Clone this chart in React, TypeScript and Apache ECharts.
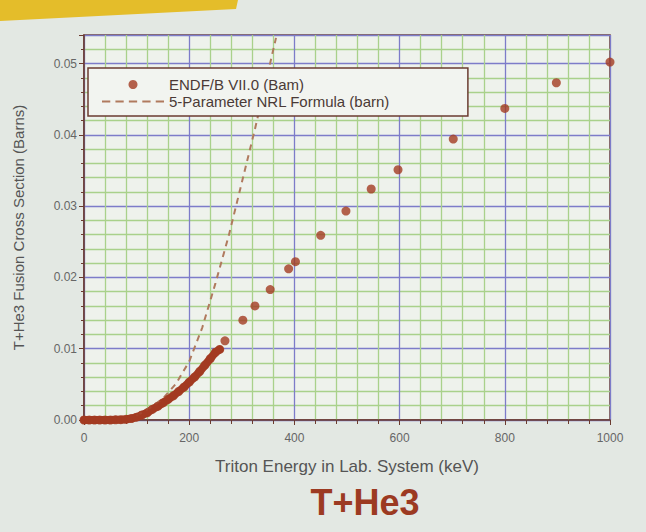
import React, { useEffect, useRef } from "react";
import * as echarts from "echarts";

// ENDF/B VII.0 points (keV, barn) – dense low-energy part
const endfDenseE = [0, 10, 20, 30, 40, 50, 60, 70, 80, 90, 100, 110, 120, 130, 140, 150, 160, 170, 180, 190, 200, 210, 220, 230, 240, 250, 258];
const endfDenseSigma = [0, 0, 0, 0, 0, 0, 0.00002, 0.00005, 0.0001, 0.0002, 0.0004, 0.0007, 0.001, 0.0015, 0.0019, 0.0024, 0.0029, 0.0034, 0.004, 0.0046, 0.0053, 0.006, 0.0068, 0.0077, 0.0086, 0.0095, 0.0099];
// ENDF/B VII.0 points – sparse higher-energy part
const endfE = [268, 302, 325, 354, 389, 402, 450, 498, 546, 597, 702, 800, 898, 1000];
const endfSigma = [0.0111, 0.014, 0.016, 0.0183, 0.0212, 0.0222, 0.0259, 0.0293, 0.0324, 0.0351, 0.0394, 0.0437, 0.0473, 0.0502];
// 5-Parameter NRL formula curve
const nrlE = [100, 125, 150, 175, 200, 225, 250, 275, 300, 325, 350, 365];
const nrlSigma = [0.0006, 0.0017, 0.003, 0.0051, 0.0082, 0.013, 0.0192, 0.0258, 0.0333, 0.0408, 0.0488, 0.0536];

const seriesNames = ["ENDF/B VII.0 (Bam)", "5-Parameter NRL Formula (barn)"];
const xAxisName = "Triton Energy in Lab. System (keV)";
const yAxisName = "T+He3 Fusion Cross Section (Barns)";
const title = "T+He3";

const W = 646;
const H = 532;

export default function App() {
  const ref = useRef<HTMLDivElement>(null);
  useEffect(() => {
    document.body.style.margin = "0";
    if (!ref.current) return;
    const chart = echarts.init(ref.current, null, { renderer: "svg" });
    const red = "#a33b22";
    const dash = "#b07a5e";
    const axisCol = "#6b3b30";
    const font = "Liberation Sans, Arial, sans-serif";
    const endfAll = endfDenseE.map((e, i) => [e, endfDenseSigma[i]]).concat(endfE.map((e, i) => [e, endfSigma[i]]));
    const dashIcon = "path://M0,4h8v2h-8z M13,4h8v2h-8z M26,4h8v2h-8z M39,4h8v2h-8z M52,4h8v2h-8z";
    chart.setOption({
      animation: false,
      backgroundColor: "#e3e8e3",
      textStyle: { fontFamily: font },
      title: {
        text: title,
        left: 365,
        textAlign: "center",
        top: 484,
        padding: 0,
        textStyle: { fontSize: 36, fontWeight: "bold", color: "#9c3a22", fontFamily: font },
      },
      grid: {
        left: 84,
        right: 36,
        top: 35,
        bottom: 112,
        show: true,
        backgroundColor: "#eef2ec",
        borderColor: axisCol,
        borderWidth: 1.5,
      },
      legend: {
        z: 6,
        left: 88,
        top: 68,
        orient: "vertical",
        itemGap: 0,
        itemWidth: 62,
        itemHeight: 9,
        padding: [8, 78, 6, 14],
        backgroundColor: "#f2f4f0",
        borderColor: axisCol,
        borderWidth: 1.5,
        borderRadius: 0,
        textStyle: { fontSize: 15, lineHeight: 17, color: "#4a3a36", fontFamily: font },
        data: [
          { name: seriesNames[0], icon: "circle", itemStyle: { color: red } },
          { name: seriesNames[1], icon: dashIcon, itemStyle: { color: dash } },
        ],
      },
      graphic: [
        {
          type: "polygon",
          shape: { points: [[0, 0], [238, 0], [236, 9], [0, 21]] },
          style: { fill: "#e4bd2a" },
        },
      ],
      xAxis: {
        type: "value",
        min: 0,
        max: 1000,
        interval: 200,
        name: xAxisName,
        nameLocation: "middle",
        nameGap: 38,
        nameTextStyle: { fontSize: 17, color: "#555555", fontFamily: font },
        axisLine: { show: true, lineStyle: { color: axisCol, width: 1.5 } },
        axisTick: { show: true, length: 5, lineStyle: { color: axisCol } },
        minorTick: { show: true, splitNumber: 5, length: 4, lineStyle: { color: axisCol } },
        axisLabel: { fontSize: 12, color: "#666666", margin: 12, fontFamily: font, formatter: (v: number) => String(v) },
        splitLine: { show: true, lineStyle: { color: "#7d7cc9", width: 1.3 } },
        minorSplitLine: { show: true, lineStyle: { color: "#a9d18b", width: 1.3 } },
      },
      yAxis: {
        type: "value",
        min: 0,
        max: 0.054,
        interval: 0.01,
        name: yAxisName,
        nameLocation: "middle",
        nameGap: 58,
        nameTextStyle: { fontSize: 15, color: "#555555", fontFamily: font },
        axisLine: { show: true, lineStyle: { color: axisCol, width: 1.5 } },
        axisTick: { show: true, length: 5, lineStyle: { color: axisCol } },
        minorTick: { show: true, splitNumber: 5, length: 3, lineStyle: { color: axisCol } },
        axisLabel: {
          fontSize: 12,
          color: "#666666",
          margin: 7,
          showMaxLabel: false,
          fontFamily: font,
          formatter: (v: number) => v.toFixed(2),
        },
        splitLine: { show: true, lineStyle: { color: "#7d7cc9", width: 1.3 } },
        minorSplitLine: { show: true, lineStyle: { color: "#a9d18b", width: 1.3 } },
      },
      series: [
        {
          name: "ENDF dense band",
          type: "line",
          data: endfDenseE.map((e, i) => [e, endfDenseSigma[i]]),
          symbol: "none",
          lineStyle: { color: red, width: 8, cap: "round", join: "round" },
          z: 2,
        },
        {
          name: seriesNames[0],
          type: "scatter",
          data: endfAll,
          symbol: "circle",
          symbolSize: 9,
          itemStyle: { color: red },
          z: 3,
        },
        {
          name: seriesNames[1],
          type: "line",
          data: nrlE.map((e, i) => [e, nrlSigma[i]]),
          symbol: "none",
          clip: true,
          lineStyle: { color: dash, width: 2, type: [6, 5] },
          itemStyle: { color: dash },
          z: 2,
        },
      ],
    });
    return () => chart.dispose();
  }, []);
  return <div ref={ref} style={{ width: W, height: H }} />;
}
